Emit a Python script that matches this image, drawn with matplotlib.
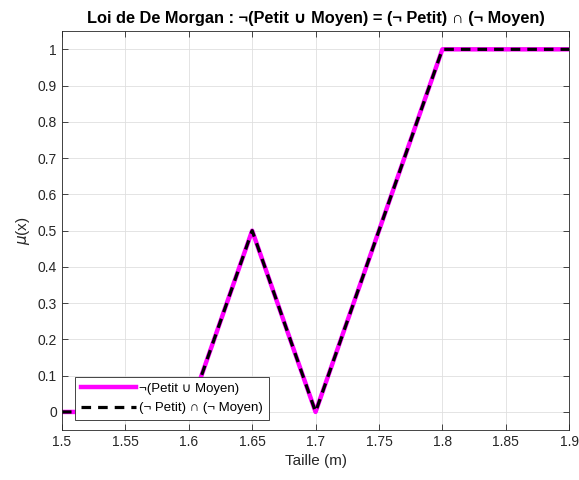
import numpy as np
import matplotlib.pyplot as plt
from matplotlib.ticker import FuncFormatter

plt.rcParams['font.family'] = ['Liberation Sans', 'DejaVu Sans']

# donnees
taille = [1.5, 1.6, 1.65, 1.7, 1.8, 1.9]
mu_non_union = [0, 0, 0.5, 0, 1, 1]
mu_inter_non = [0, 0, 0.5, 0, 1, 1]
xticks = [1.5, 1.55, 1.6, 1.65, 1.7, 1.75, 1.8, 1.85, 1.9]
yticks = np.round(np.arange(0, 1.01, 0.1), 1)

fig = plt.figure(figsize=(5.79, 4.8), dpi=100)
ax = fig.add_axes([0.107, 0.104, 0.876, 0.831])

ax.plot(taille, mu_non_union, color='#ff00ff', lw=3.2, label='¬(Petit ∪ Moyen)')
ax.plot(taille, mu_inter_non, color='black', lw=2.3, ls=(0, (3, 2.2)),
        label='(¬ Petit) ∩ (¬ Moyen)')

ax.set_xlim(1.5, 1.9)
ax.set_ylim(-0.05, 1.05)
ax.set_xticks(xticks)
ax.set_yticks(yticks)
fmt = FuncFormatter(lambda v, p: f'{v:g}')
ax.xaxis.set_major_formatter(fmt)
ax.yaxis.set_major_formatter(fmt)
ax.tick_params(direction='in', length=4, width=0.6, labelsize=10, top=True, right=True,
               colors='#262626')
ax.grid(True, color='#dfdfdf', lw=0.6)
for s in ax.spines.values():
    s.set_linewidth(0.6)
    s.set_color('#262626')

ax.set_xlabel('Taille (m)', fontsize=11, color='#262626')
ax.set_ylabel(r'$\mu$(x)', fontsize=11, color='#262626')
ax.set_title('Loi de De Morgan : ¬(Petit ∪ Moyen) = (¬ Petit) ∩ (¬ Moyen)',
             fontsize=11.8, fontweight='bold', pad=6)

leg = ax.legend(loc='lower left', bbox_to_anchor=(0.026, 0.025), fontsize=9.5,
                fancybox=False, framealpha=1, edgecolor='#262626',
                handlelength=4.2, handletextpad=0.2, borderpad=0.45, labelspacing=0.55,
                borderaxespad=0)
leg.get_frame().set_linewidth(0.6)

fig.savefig('out.png', dpi=100)
